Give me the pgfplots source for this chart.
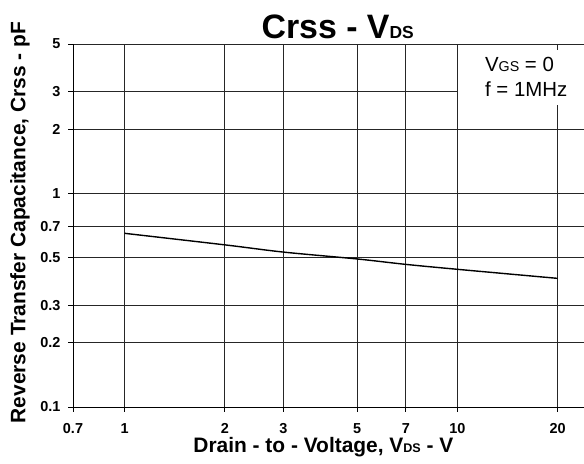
\documentclass[border=0pt]{standalone}
\usepackage{pgfplots}
\pgfplotsset{compat=1.18}
\usepackage{fontspec}
\setmainfont{Liberation Sans}
\begin{document}
\begin{tikzpicture}
\begin{axis}[
  scale only axis,
  width=511bp, height=363bp,
  xmode=log, ymode=log,
  xmin=0.7, xmax=24, ymin=0.1, ymax=5,
  axis lines*=left,
  axis line style={black, line width=0.9bp},
  xtick={0.7,1,2,3,5,7,10,20},
  xticklabels={0.7,1,2,3,5,7,10,20},
  ytick={0.1,0.2,0.3,0.5,0.7,1,2,3,5},
  yticklabels={0.1,0.2,0.3,0.5,0.7,1,2,3,5},
  minor tick num=0,
  grid=major,
  major grid style={black!85, line width=0.9bp},
  tick align=outside,
  major tick length=5bp,
  tick style={black, line width=0.9bp},
  tick label style={font=\bfseries\fontsize{14.5}{17}\selectfont},
  xticklabel style={yshift=-8bp},
  yticklabel style={xshift=-4bp},
  xlabel={Drain - to - Voltage, V{\fontsize{12.6}{15}\selectfont DS} - V},
  xlabel style={font=\bfseries\fontsize{21}{24}\selectfont, at={(rel axis cs:0.490,0)}, anchor=center, yshift=-40bp},
  ylabel={Reverse Transfer Capacitance, Crss - pF},
  ylabel style={font=\bfseries\fontsize{21}{24}\selectfont, at={(axis description cs:-0.1037,0.508)}, anchor=center},
  title={Crss - V{\fontsize{17.5}{19}\selectfont DS}},
  title style={font=\bfseries\fontsize{34}{37}\selectfont, at={(rel axis cs:0.518,1)}, anchor=center, yshift=11bp},
  clip=false,
]
\addplot[black, line width=1.4bp, smooth] coordinates {
  (1,0.650) (2,0.574) (3,0.531) (5,0.493) (7,0.465) (10,0.441) (20,0.400)
};
\fill[white] (rel axis cs:0.753,0.983) rectangle (rel axis cs:1,0.832);
\node[anchor=base west, font=\fontsize{20.5}{24}\selectfont, inner sep=0pt] at (rel axis cs:0.806,0.923) {V{\fontsize{14.3}{17}\selectfont GS} = 0};
\node[anchor=base west, font=\fontsize{20.5}{24}\selectfont, inner sep=0pt] at (rel axis cs:0.806,0.854) {f = 1MHz};
\end{axis}
\pgfresetboundingbox
\path[use as bounding box] ([xshift=-73bp,yshift=-57bp]current axis.south west) rectangle ([yshift=44bp]current axis.north east);
\end{tikzpicture}
\end{document}
